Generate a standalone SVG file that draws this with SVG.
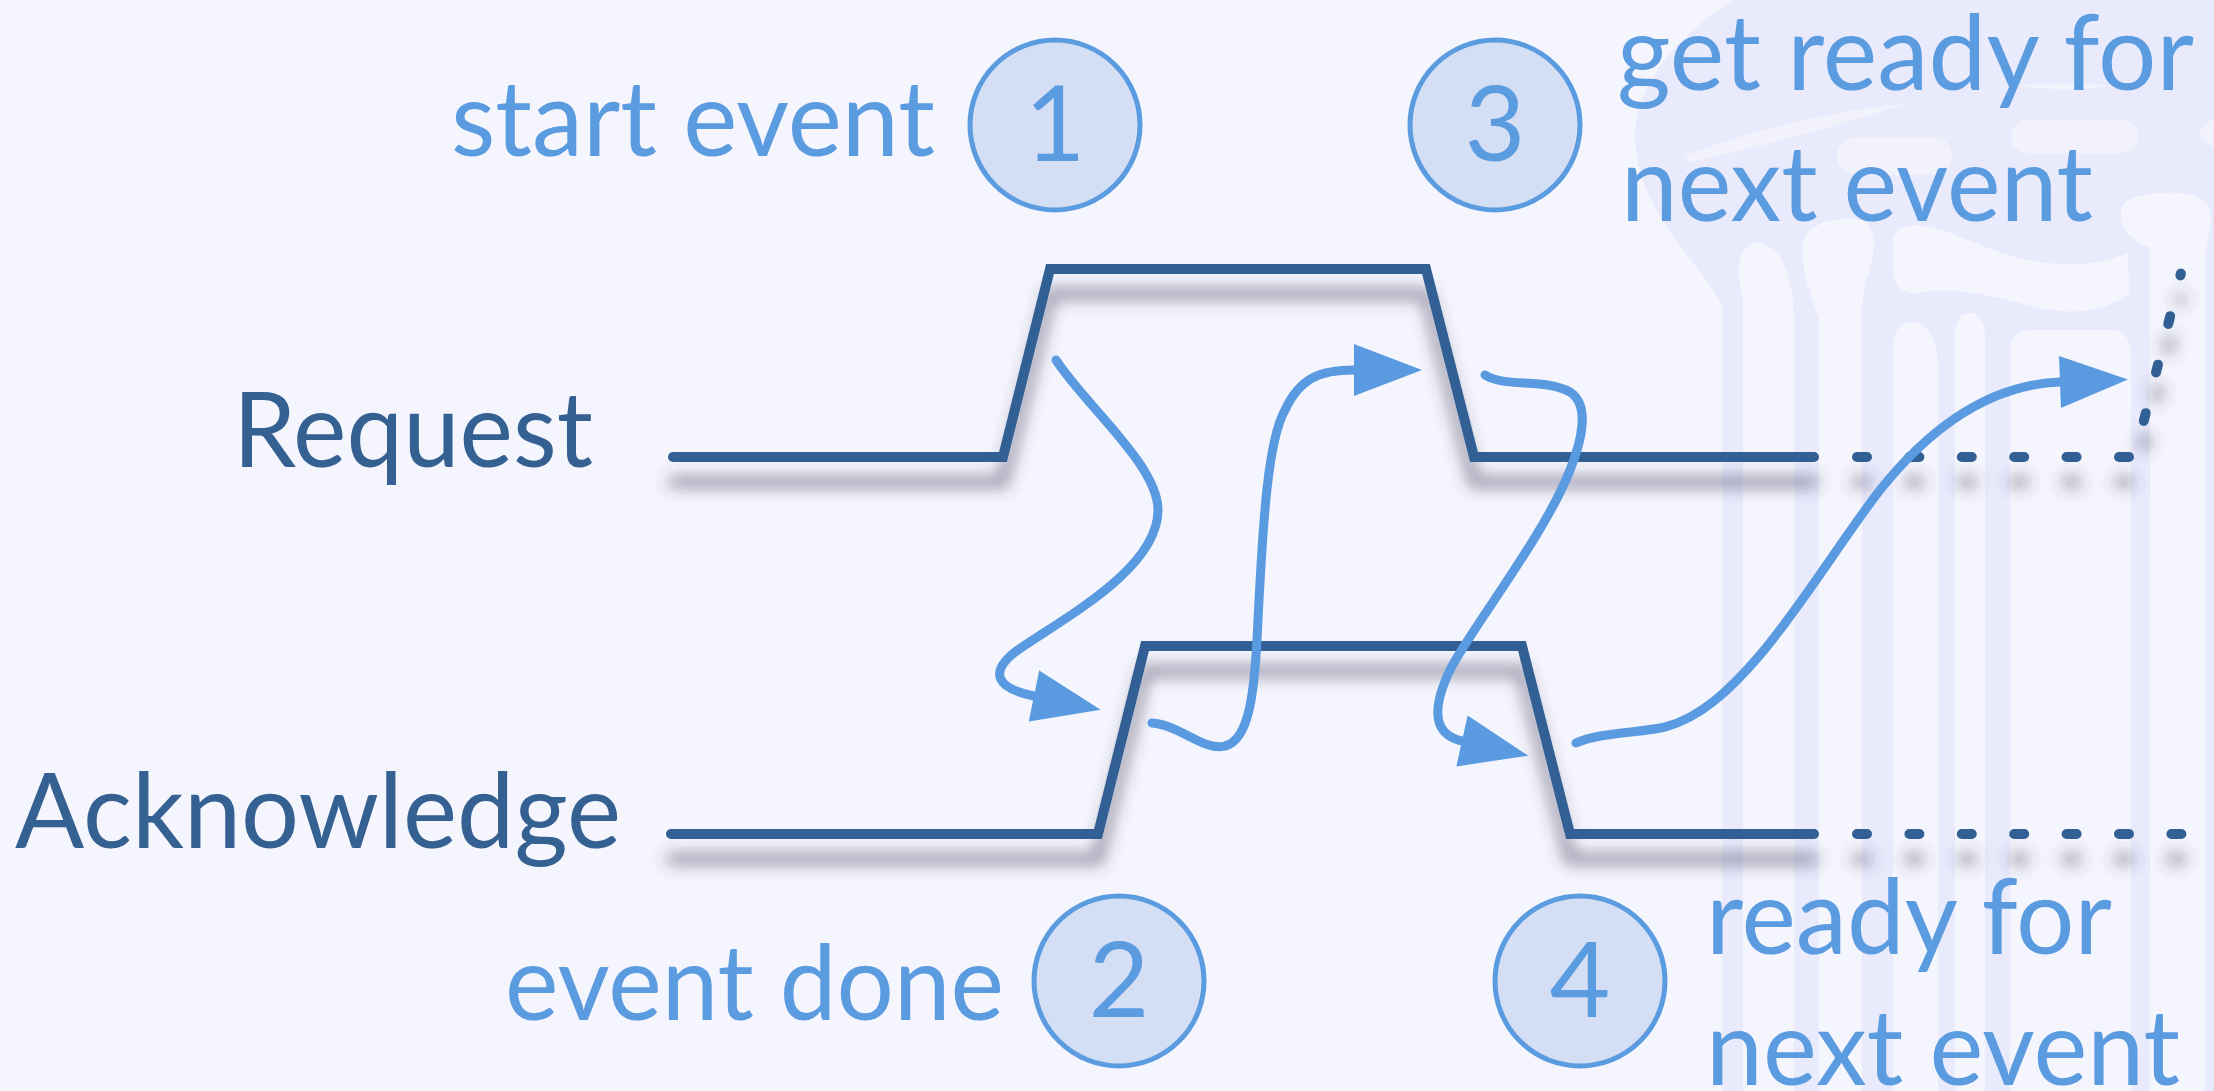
<svg xmlns="http://www.w3.org/2000/svg" width="2214" height="1091" viewBox="0 0 2214 1091">
  <style>
    .wave { fill: none; stroke: #336195; stroke-width: 10; stroke-linecap: round; stroke-linejoin: miter; }
    .dots { fill: none; stroke: #336195; stroke-width: 10; stroke-linecap: round; }
    .flow { fill: none; stroke: #5a9ae0; stroke-width: 9; stroke-linecap: round; stroke-linejoin: round; }
    .badge { fill: #d4dff5; stroke: #5b9be0; stroke-width: 5; }
    .digit { font-family: Lato, "Open Sans", sans-serif; font-size: 105px; fill: #5b9be0; text-anchor: middle; }
    .note { font-family: Lato, "Open Sans", sans-serif; font-size: 105px; fill: #5b9be0; }
    .signal { font-family: Lato, "Open Sans", sans-serif; font-size: 105px; fill: #356192; }
    .wm-dark { fill: #e9eafc; }
    .wm-light { fill: #f5f5fd; }
    .wm-streak { fill: #f2f2fd; }
  </style>
  <defs>
    <filter id="drop" filterUnits="userSpaceOnUse" x="600" y="200" width="1650" height="720">
      <feGaussianBlur in="SourceAlpha" stdDeviation="8"/>
      <feOffset dy="25" result="blur"/>
      <feFlood flood-color="#3c3c58" flood-opacity="0.6"/>
      <feComposite in2="blur" operator="in"/>
      <feMerge>
        <feMergeNode/>
        <feMergeNode in="SourceGraphic"/>
      </feMerge>
    </filter>
    <marker id="head" markerUnits="userSpaceOnUse" markerWidth="80" markerHeight="60" refX="0" refY="30" orient="auto" overflow="visible">
      <path d="M0,4 L68,30 L0,56 Z" fill="#5a9ae0"/>
    </marker>
  </defs>

  <!-- background -->
  <rect width="2214" height="1091" fill="#f5f5fd"/>

  <!-- faint emblem on the right -->
  <g id="emblem">
    <path class="wm-dark" d="M1734,0 C1670,40 1628,95 1636,150 C1645,220 1700,262 1722,305 L1722,1091 L2214,1091 L2214,0 Z"/>
    <path class="wm-streak" d="M1684,156 C1740,134 1830,110 1905,104 C1850,122 1760,148 1690,162 Z"/>
    <rect class="wm-streak" x="1837" y="137" width="115" height="38" rx="19"/>
    <rect class="wm-streak" x="2011" y="120" width="127" height="33" rx="16"/>
    <ellipse class="wm-streak" cx="2063" cy="86" rx="43" ry="3"/>
    <ellipse class="wm-streak" cx="2222" cy="133" rx="22" ry="14"/>
    <path class="wm-light" d="M1743,1091 L1743,300 C1735,270 1738,243 1757,243 C1780,243 1794,275 1794,320 L1794,1091 Z"/>
    <path class="wm-light" d="M1819,1091 L1819,320 C1810,290 1800,270 1803,242 C1808,222 1840,216 1860,220 C1880,226 1875,260 1866,280 C1862,295 1862,310 1862,330 L1862,1091 Z"/>
    <path class="wm-light" d="M1893,248 C1890,230 1905,222 1925,226 C1960,232 1990,255 2040,262 C2080,268 2105,262 2128,253 L2129,293 C2100,316 2060,314 2030,306 C1990,295 1960,288 1925,292 C1905,296 1893,288 1893,270 Z"/>
    <path class="wm-light" d="M1893,1091 L1893,350 C1893,330 1900,322 1912,322 C1928,322 1938,340 1938,370 L1938,1091 Z"/>
    <path class="wm-light" d="M1955,1091 L1955,335 C1955,320 1961,313 1970,313 C1980,313 1985,322 1985,340 L1985,1091 Z"/>
    <path class="wm-light" d="M2010,1091 L2010,350 C2010,338 2017,330 2031,330 L2111,330 C2125,330 2131,340 2131,355 L2131,1091 Z"/>
    <path class="wm-light" d="M2150,1091 L2150,248 C2130,240 2119,226 2121,210 C2124,196 2150,192 2180,193 C2205,195 2214,208 2210,228 C2207,244 2205,255 2205,270 L2205,1091 Z"/>
  </g>

  <!-- signal names -->
  <g id="label-request">
    <text class="signal" x="233" y="467" textLength="360" lengthAdjust="spacingAndGlyphs">Request</text>
  </g>
  <g id="label-acknowledge">
    <text class="signal" x="15" y="848" textLength="606" lengthAdjust="spacingAndGlyphs">Acknowledge</text>
  </g>

  <!-- waveforms -->
  <g id="wave-request" filter="url(#drop)">
    <path class="wave" d="M673,457 L1003,457 L1050,269 L1426,269 L1474,457 L1814,457"/>
    <path class="dots" d="M1857,457 L2134,457" stroke-dasharray="10 42.4"/>
    <path class="dots" d="M2143.8,420.9 L2180.9,273.5" stroke-dasharray="8 42"/>
  </g>
  <g id="wave-acknowledge" filter="url(#drop)">
    <path class="wave" d="M671,834 L1098,834 L1145,646 L1522,646 L1570,834 L1814,834"/>
    <path class="dots" d="M1857,834 L2186,834" stroke-dasharray="10 42.4"/>
  </g>

  <!-- numbered steps -->
  <g id="step-1">
    <text class="note" x="451" y="156" textLength="484" lengthAdjust="spacingAndGlyphs">start event</text>
    <circle class="badge" cx="1055" cy="125" r="85"/>
    <text class="digit" x="1055" y="161">1</text>
  </g>
  <g id="step-2">
    <text class="note" x="505" y="1020" textLength="499" lengthAdjust="spacingAndGlyphs">event done</text>
    <circle class="badge" cx="1119" cy="981" r="85"/>
    <text class="digit" x="1119" y="1017">2</text>
  </g>
  <g id="step-3">
    <circle class="badge" cx="1495" cy="125" r="85"/>
    <text class="digit" x="1495" y="161">3</text>
    <text class="note" x="1617" y="90" textLength="577" lengthAdjust="spacingAndGlyphs">get ready for</text>
    <text class="note" x="1621" y="221" textLength="472" lengthAdjust="spacingAndGlyphs">next event</text>
  </g>
  <g id="step-4">
    <circle class="badge" cx="1580" cy="981" r="85"/>
    <text class="digit" x="1580" y="1017">4</text>
    <text class="note" x="1706" y="954" textLength="406" lengthAdjust="spacingAndGlyphs">ready for</text>
    <text class="note" x="1706" y="1085" textLength="474" lengthAdjust="spacingAndGlyphs">next event</text>
  </g>

  <!-- handshake arrows -->
  <g id="connectors">
    <path class="flow" marker-end="url(#head)" d="M1056,360 C1085,405 1158,465 1158,510 C1158,570 1060,620 1015,652 C990,672 995,688 1034,696"/>
    <path class="flow" marker-end="url(#head)" d="M1152,723 C1180,725 1205,752 1225,746 C1250,740 1255,690 1258,620 C1263,520 1268,440 1285,410 C1300,378 1320,370 1354,370"/>
    <path class="flow" marker-end="url(#head)" d="M1485,375 C1505,388 1545,378 1570,392 C1590,405 1582,440 1570,470 C1545,535 1470,630 1450,670 C1430,712 1435,735 1462,741"/>
    <path class="flow" marker-end="url(#head)" d="M1576,743 C1600,732 1640,733 1665,727 C1700,718 1730,690 1760,655 C1800,608 1845,535 1880,490 C1920,440 1980,385 2060,382"/>
  </g>
</svg>
